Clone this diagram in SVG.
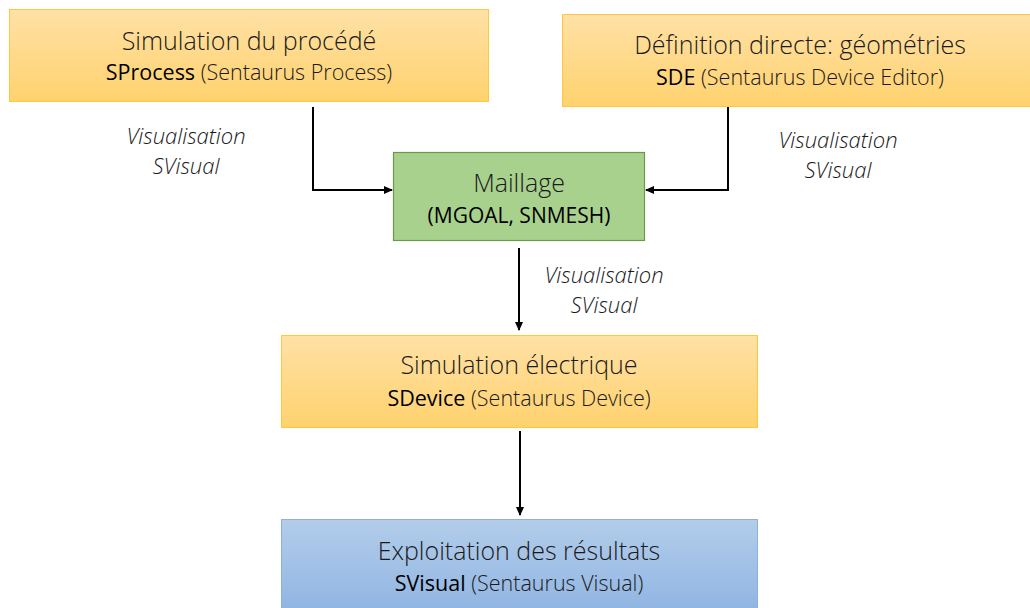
<svg xmlns="http://www.w3.org/2000/svg" width="1030" height="608" viewBox="0 0 1030 608">
<defs>
<linearGradient id="gOr" x1="0" y1="0" x2="0" y2="1">
<stop offset="0" stop-color="#FFE1A6"/>
<stop offset="1" stop-color="#FFD26E"/>
</linearGradient>
<linearGradient id="gBl" x1="0" y1="0" x2="0" y2="1">
<stop offset="0" stop-color="#B3CDEA"/>
<stop offset="1" stop-color="#8FB4E2"/>
</linearGradient>
<marker id="arr" markerWidth="10" markerHeight="10" refX="8" refY="5" orient="auto" markerUnits="userSpaceOnUse">
<path d="M0,1 L9,5 L0,9 Z" fill="#000"/>
</marker>
<style>
.or{fill:url(#gOr);stroke:#FFC73A;stroke-width:1}
.bl{fill:url(#gBl);stroke:#8EB1DC;stroke-width:1}
.gr{fill:#A9D18E;stroke:#6A9A45;stroke-width:1.2}
.t{font-family:"Open Sans","Liberation Sans",sans-serif;font-weight:300;font-size:25px;fill:#1a1a1a;text-anchor:middle}
.s{font-family:"Open Sans","Liberation Sans",sans-serif;font-weight:300;font-size:21.5px;fill:#1a1a1a;text-anchor:middle}
.b{font-weight:400;fill:#000}
.i{font-family:"Open Sans","Liberation Sans",sans-serif;font-style:italic;font-weight:300;font-size:22px;fill:#1a1a1a;text-anchor:middle}
.c{fill:none;stroke:#000;stroke-width:2;marker-end:url(#arr)}
</style>
</defs>
<rect width="1030" height="608" fill="#fff"/>
<g id="connectors">
<path class="c" d="M313,107 V190 H392"/>
<path class="c" d="M728,107 V190 H646"/>
<path class="c" d="M519,248 V330"/>
<path class="c" d="M520,431 V515"/>
<text class="i" x="186" y="144">Visualisation</text>
<text class="i" x="186" y="174">SVisual</text>
<text class="i" x="838" y="148">Visualisation</text>
<text class="i" x="838" y="178">SVisual</text>
<text class="i" x="604" y="283">Visualisation</text>
<text class="i" x="604" y="313">SVisual</text>
</g>
<g id="process">
<rect class="or" x="9.5" y="9.5" width="479" height="92"/>
<text class="t" x="249" y="50">Simulation du procédé</text>
<text class="s" x="249" y="80"><tspan class="b">SProcess</tspan> (Sentaurus Process)</text>
</g>
<g id="sde">
<rect class="or" x="562.5" y="14.5" width="468" height="92"/>
<text class="t" x="800" y="54">Définition directe: géométries</text>
<text class="s" x="800" y="85"><tspan class="b">SDE</tspan> (Sentaurus Device Editor)</text>
</g>
<g id="maillage">
<rect class="gr" x="393.5" y="152.5" width="251" height="88"/>
<text class="t" x="519" y="192">Maillage</text>
<text class="s b" x="519" y="223" style="font-size:21px">(MGOAL, SNMESH)</text>
</g>
<g id="sdevice">
<rect class="or" x="281.5" y="335.5" width="476" height="92"/>
<text class="t" x="519" y="374">Simulation électrique</text>
<text class="s" x="519" y="406"><tspan class="b">SDevice</tspan> (Sentaurus Device)</text>
</g>
<g id="svisual">
<rect class="bl" x="281.5" y="519.5" width="476" height="95"/>
<text class="t" x="519" y="560">Exploitation des résultats</text>
<text class="s" x="519" y="591"><tspan class="b">SVisual</tspan> (Sentaurus Visual)</text>
</g>
</svg>
